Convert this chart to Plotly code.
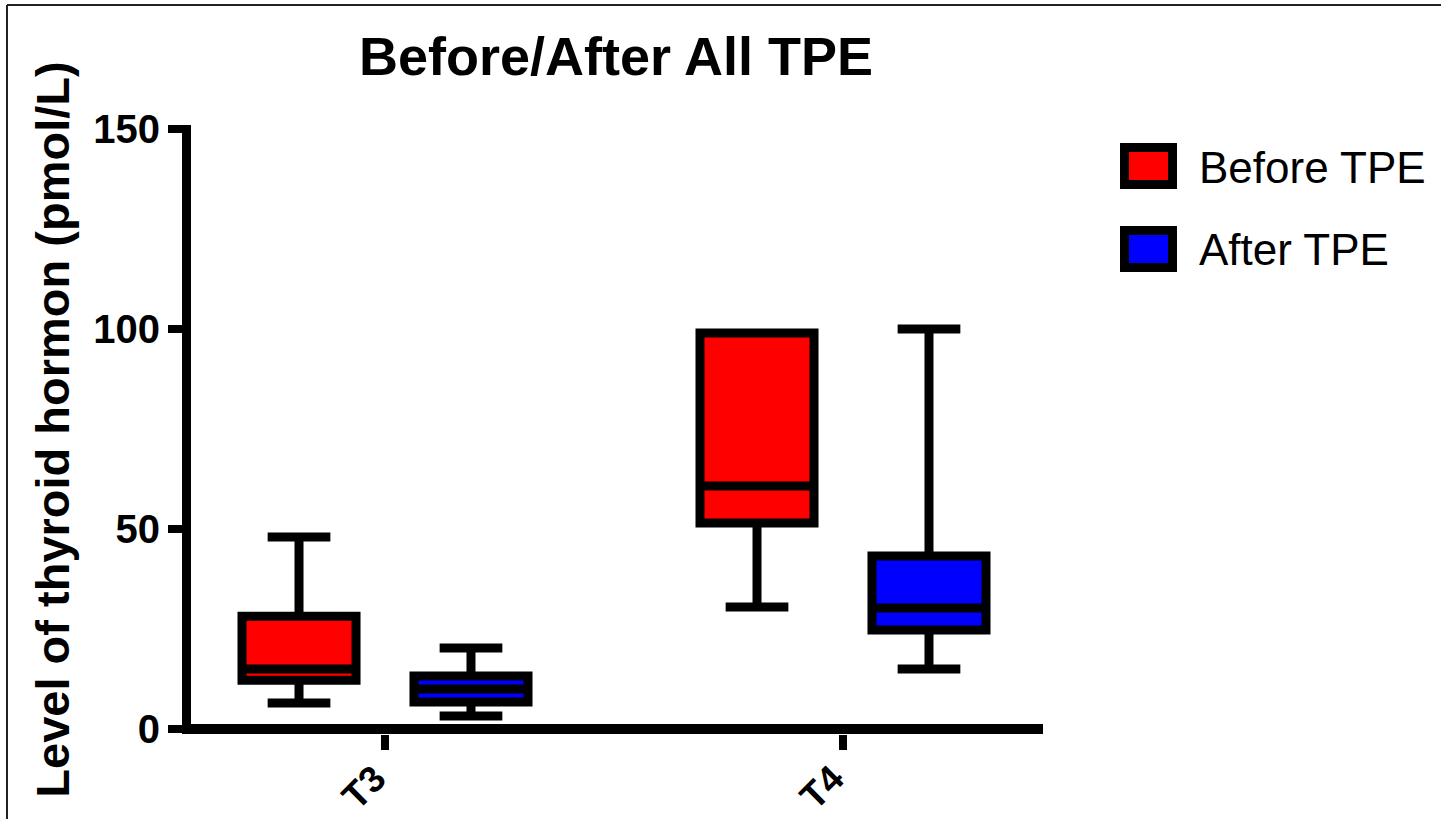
import plotly.graph_objects as go

# ---- data ----
categories = ["T3", "T4"]
series_names = ["Before TPE", "After TPE"]
series_colors = ["#ff0000", "#0000ff"]

before_lower = [6.5, 30.5]
before_q1 = [12.2, 51.5]
before_median = [15.0, 60.75]
before_q3 = [28.2, 99.0]
before_upper = [48.0, 99.0]

after_lower = [3.25, 15.0]
after_q1 = [6.75, 24.75]
after_median = [10.0, 30.25]
after_q3 = [13.25, 43.25]
after_upper = [20.25, 100.0]

y_ticks = [0, 50, 100, 150]
title_text = "Before/After All TPE"
y_title = "Level of thyroid hormon (pmol/L)"

# ---- layout constants (pixels) ----
W, H = 1441, 819
L, R, T, B = 191, 1043, 125, 734
FONT = "Liberation Sans, Arial, Helvetica, sans-serif"


def px_x(p):
    return (p - L) / (R - L)


def px_y(p):
    return (B - p) / (B - T)


fig = go.Figure()
stats = [
    (before_lower, before_q1, before_median, before_q3, before_upper),
    (after_lower, after_q1, after_median, after_q3, after_upper),
]
for name, color, (lo, q1, med, q3, up) in zip(series_names, series_colors, stats):
    fig.add_trace(go.Box(
        x=categories,
        lowerfence=lo, q1=q1, median=med, q3=q3, upperfence=up,
        name=name,
        fillcolor=color,
        line=dict(color="black", width=9),
        whiskerwidth=0.55,
        boxpoints=False,
        showlegend=False,
    ))

fig.update_layout(
    width=W, height=H,
    margin=dict(l=L, r=W - R, t=T, b=H - B, autoexpand=False),
    paper_bgcolor="white", plot_bgcolor="white",
    boxmode="group", boxgap=0.249, boxgroupgap=0.337,
    showlegend=False,
    title=dict(
        text=title_text, x=616 / W, xanchor="center",
        y=1 - 56 / H, yanchor="middle",
        font=dict(family=FONT, size=54, color="black", weight="bold"),
    ),
    font=dict(family=FONT, color="black"),
)

fig.update_xaxes(
    type="category",
    range=[(L - 385) / 458, (R - 385) / 458],
    showline=False, showgrid=False, zeroline=False,
    ticks="outside", ticklen=15, tickwidth=8, tickcolor="black",
    tickangle=-45,
    ticklabelstandoff=-8, ticklabelshift=-10,
    tickfont=dict(family=FONT, size=37, color="black", weight="bold"),
)
fig.update_yaxes(
    range=[-(B - 729) / 4.0, 151],
    tickvals=y_ticks, ticktext=[str(v) for v in y_ticks],
    showline=True, linewidth=9, linecolor="black",
    showgrid=False,
    zeroline=True, zerolinewidth=10, zerolinecolor="black",
    ticks="outside", ticklen=14, tickwidth=8, tickcolor="black",
    tickfont=dict(family=FONT, size=40, color="black", weight="bold"),
    title=dict(text=y_title, standoff=12,
               font=dict(family=FONT, size=47, color="black", weight="bold")),
)

# custom legend (large swatches as in the reference)
legend_rows = [(147.5, 184.5, 167), (230.5, 267.5, 249)]
for (y0, y1, yc), name, color in zip(legend_rows, series_names, series_colors):
    fig.add_shape(type="rect", xref="paper", yref="paper",
                  x0=px_x(1124.5), x1=px_x(1172.5), y0=px_y(y1), y1=px_y(y0),
                  fillcolor=color, line=dict(color="black", width=9), layer="above")
    fig.add_annotation(xref="paper", yref="paper", x=px_x(1197), y=px_y(yc),
                       xanchor="left", yanchor="middle", showarrow=False,
                       text=name, font=dict(family=FONT, size=44, color="black"))

# thin frame along top and left edges
fig.add_shape(type="line", xref="paper", yref="paper",
              x0=px_x(7), x1=px_x(1460), y0=px_y(5), y1=px_y(5),
              line=dict(color="#222222", width=2), layer="above")
fig.add_shape(type="line", xref="paper", yref="paper",
              x0=px_x(7), x1=px_x(7), y0=px_y(5), y1=px_y(840),
              line=dict(color="#222222", width=2), layer="above")

fig.write_html("out.html",
               config={"displayModeBar": False},
               post_script="document.body.style.margin='0';document.body.style.overflow='hidden';")
